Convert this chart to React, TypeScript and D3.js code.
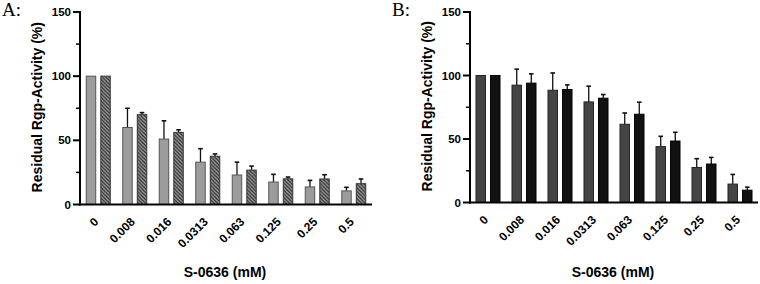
import React from "react";
import * as d3 from "d3";

const categories = ["0", "0.008", "0.016", "0.0313", "0.063", "0.125", "0.25", "0.5"];
const aSeries1 = [100, 60, 51, 33, 23, 17.5, 13.7, 10.6];
const aSeries1Err = [0, 15, 14.2, 10.5, 10, 6, 5.1, 2.8];
const aSeries2 = [100, 70, 56.2, 37.6, 26.8, 20, 19.9, 16.2];
const aSeries2Err = [0, 1.6, 2, 1.8, 3.1, 1.4, 3.3, 3.7];
const bSeries1 = [100, 92.4, 88.4, 79.2, 61.6, 44, 27.6, 14.5];
const bSeries1Err = [0, 12.6, 13.6, 12.4, 8.9, 8.1, 6.9, 7.6];
const bSeries2 = [100, 94, 89, 82.1, 69.5, 48.4, 30.3, 9.7];
const bSeries2Err = [0, 7.3, 3.6, 2.9, 9.5, 6.9, 5.2, 2.4];
const yTicks = [0, 50, 100, 150];
const yMinor = [25, 75, 125];

const SANS = "'Liberation Sans', Arial, sans-serif";
const SERIF = "'Liberation Serif', 'Times New Roman', serif";

type PanelProps = {
  label: string;
  x0: number;
  x1: number;
  base: number;
  s1: number[];
  e1: number[];
  s2: number[];
  e2: number[];
  fill1: string;
  fill2: string;
  stroke1: string;
  stroke2: string;
};

function Panel(p: PanelProps) {
  const x = d3.scaleBand<string>().domain(categories).range([p.x0, p.x1]).paddingInner(0).paddingOuter(0);
  const inner = d3.scaleBand<string>().domain(["s1", "s2"]).range([-12, 12]).paddingInner(0.35);
  const y = d3.scaleLinear().domain([0, 150]).range([p.base, 12]);
  const series = [
    { key: "s1", vals: p.s1, errs: p.e1, fill: p.fill1, stroke: p.stroke1 },
    { key: "s2", vals: p.s2, errs: p.e2, fill: p.fill2, stroke: p.stroke2 },
  ];
  const bw = inner.bandwidth();
  return (
    <g>
      <text x={p.x0 - 78} y={16} fontFamily={SERIF} fontSize={19}>{p.label}</text>
      {series.map((s) =>
        s.vals.map((v, i) => {
          const cx = (x(categories[i]) as number) + x.bandwidth() / 2;
          const bx = cx + (inner(s.key) as number);
          const mid = bx + bw / 2;
          const e = s.errs[i];
          return (
            <g key={s.key + i}>
              {e > 0 && (
                <g stroke="#111" strokeWidth={1.3}>
                  <line x1={mid} x2={mid} y1={y(v)} y2={y(v + e)} />
                  <line x1={mid - 2.3} x2={mid + 2.3} y1={y(v + e)} y2={y(v + e)} strokeWidth={1.6} />
                </g>
              )}
              <rect x={bx} y={y(v)} width={bw} height={p.base - y(v)} fill={s.fill} stroke={s.stroke} strokeWidth={1} />
            </g>
          );
        })
      )}
      {/* y axis */}
      <line x1={p.x0} x2={p.x0} y1={11} y2={p.base + 1} stroke="#000" strokeWidth={2} />
      {yTicks.map((t) => (
        <g key={t}>
          <line x1={p.x0 - 7} x2={p.x0} y1={y(t)} y2={y(t)} stroke="#000" strokeWidth={2} />
          <text x={p.x0 - 9} y={y(t)} dy="0.36em" textAnchor="end" fontFamily={SANS} fontWeight="bold" fontSize={11.5}>
            {t}
          </text>
        </g>
      ))}
      {yMinor.map((t) => (
        <line key={t} x1={p.x0 - 4} x2={p.x0} y1={y(t)} y2={y(t)} stroke="#000" strokeWidth={1.5} />
      ))}
      {/* x axis */}
      <line x1={p.x0 - 1} x2={p.x1} y1={p.base} y2={p.base} stroke="#000" strokeWidth={2} />
      {categories.map((c) => {
        const cx = (x(c) as number) + x.bandwidth() / 2;
        return (
          <text
            key={c}
            transform={`translate(${cx + 1},${p.base + 18}) rotate(-45)`}
            textAnchor="end"
            fontFamily={SANS}
            fontWeight="bold"
            fontSize={12}
          >
            {c}
          </text>
        );
      })}
      <text
        transform={`translate(${p.x0 - 38},${(12 + p.base) / 2 - 1}) rotate(-90)`}
        textAnchor="middle"
        fontFamily={SANS}
        fontWeight="bold"
        fontSize={14}
      >
        Residual Rgp-Activity (%)
      </text>
      <text x={(p.x0 + p.x1) / 2 - 1} y={277} textAnchor="middle" fontFamily={SANS} fontWeight="bold" fontSize={14}>
        S-0636 (mM)
      </text>
    </g>
  );
}

export default function App() {
  return (
    <svg
      width={760}
      height={284}
      style={{ position: "absolute", left: 0, top: 0, display: "block", background: "#fff" }}
    >
      <defs>
        <pattern id="hatch" patternUnits="userSpaceOnUse" width={3.6} height={3.6}>
          <rect width={3.6} height={3.6} fill="#a8a8a8" />
          <path d="M-1,-1 L4.6,4.6 M-1,2.6 L1,4.6 M2.6,-1 L4.6,1" stroke="#2a2a2a" strokeWidth={1.3} />
        </pattern>
      </defs>
      <rect width={760} height={284} fill="#fff" />
      <Panel
        label="A:"
        x0={80}
        x1={372}
        base={204.5}
        s1={aSeries1}
        e1={aSeries1Err}
        s2={aSeries2}
        e2={aSeries2Err}
        fill1="#9c9c9c"
        fill2="url(#hatch)"
        stroke1="#555"
        stroke2="#333"
      />
      <Panel
        label="B:"
        x0={470}
        x1={758}
        base={202.5}
        s1={bSeries1}
        e1={bSeries1Err}
        s2={bSeries2}
        e2={bSeries2Err}
        fill1="#454545"
        fill2="#121212"
        stroke1="#222"
        stroke2="#000"
      />
    </svg>
  );
}
